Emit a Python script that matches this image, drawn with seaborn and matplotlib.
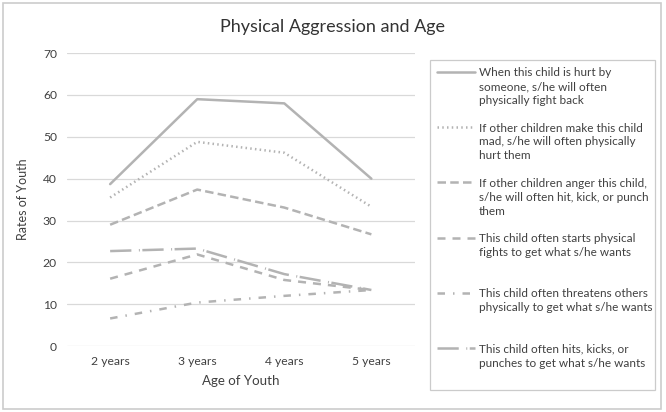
import numpy as np
import pandas as pd
import matplotlib
matplotlib.use("Agg")
import matplotlib.pyplot as plt
import matplotlib.patches as mpatches
import seaborn as sns

# data
ages = ["2 years", "3 years", "4 years", "5 years"]
items = [
    "When this child is hurt by\nsomeone, s/he will often\nphysically fight back",
    "If other children make this child\nmad, s/he will often physically\nhurt them",
    "If other children anger this child,\ns/he will often hit, kick, or punch\nthem",
    "This child often starts physical\nfights to get what s/he wants\n ",
    "This child often threatens others\nphysically to get what s/he wants\n ",
    "This child often hits, kicks, or\npunches to get what s/he wants\n ",
]
fight_back = [38.7, 59.0, 58.0, 40.0]
hurt_them = [35.5, 48.8, 46.2, 33.3]
hit_kick_punch = [29.0, 37.4, 33.1, 26.7]
starts_fights = [16.1, 21.9, 15.8, 13.4]
threatens = [6.6, 10.4, 12.0, 13.4]
hits_to_get = [22.7, 23.3, 17.2, 13.4]

series = [fight_back, hurt_them, hit_kick_punch, starts_fights, threatens, hits_to_get]

df = pd.DataFrame(
    [
        {"Age": age, "Rate": val, "Item": item}
        for item, vals in zip(items, series)
        for age, val in zip(ages, vals)
    ]
)

grey = "#b3b3b3"
text_col = "#404040"
dashes = {
    items[0]: "",
    items[1]: (0.6, 1.3),
    items[2]: (3.4, 1.7),
    items[3]: (3.2, 2.8),
    items[4]: (3.0, 3.2, 0.6, 3.2),
    items[5]: (8.5, 3.0, 0.4, 1.0),
}

sns.set_style("white")
plt.rcParams["font.family"] = ["Lato", "DejaVu Sans"]

fig = plt.figure(figsize=(6.66, 4.12), dpi=100)
ax = fig.add_axes([0.100, 0.160, 0.523, 0.711])

sns.lineplot(
    data=df,
    x="Age",
    y="Rate",
    hue="Item",
    style="Item",
    hue_order=items,
    style_order=items,
    palette=[grey] * len(items),
    dashes=dashes,
    linewidth=1.8,
    legend=False,
    ax=ax,
)

ax.set_xlim(-0.5, 3.5)
ax.set_ylim(0, 70)
ax.set_yticks(range(0, 71, 10))
ax.yaxis.grid(True, color="#d9d9d9", linewidth=0.9)
ax.set_axisbelow(True)
for s in ax.spines.values():
    s.set_visible(False)
ax.tick_params(axis="both", length=0, labelsize=8.7, labelcolor=text_col, pad=7)
ax.set_xlabel("Age of Youth", fontsize=9.6, color=text_col, labelpad=6)
ax.set_ylabel("Rates of Youth", fontsize=9, color=text_col, labelpad=10)

fig.suptitle("Physical Aggression and Age", fontsize=13, color="#333333", x=0.5, y=0.955)

leg = ax.legend(
    ax.lines[: len(items)],
    items,
    loc="upper left",
    bbox_to_anchor=(0.646, 0.061, 0.337, 0.793),
    bbox_transform=fig.transFigure,
    mode="expand",
    fontsize=8.5,
    frameon=True,
    fancybox=False,
    edgecolor="#bfbfbf",
    handlelength=3.2,
    handletextpad=0.3,
    labelspacing=1.4,
    borderpad=0.6,
    borderaxespad=0,
)
leg.get_frame().set_linewidth(0.9)
for t in leg.get_texts():
    t.set_color(text_col)
    t.set_linespacing(1.32)
# Excel puts the legend key next to the first text line
for ln in leg.get_lines():
    ln.set_ydata(np.asarray(ln.get_ydata()) + 11.0)

fig.add_artist(
    mpatches.Rectangle(
        (0.004, 0.008), 0.988, 0.985,
        transform=fig.transFigure, fill=False, edgecolor="#cccccc", linewidth=1.2,
    )
)

fig.savefig("out.png", dpi=100)
